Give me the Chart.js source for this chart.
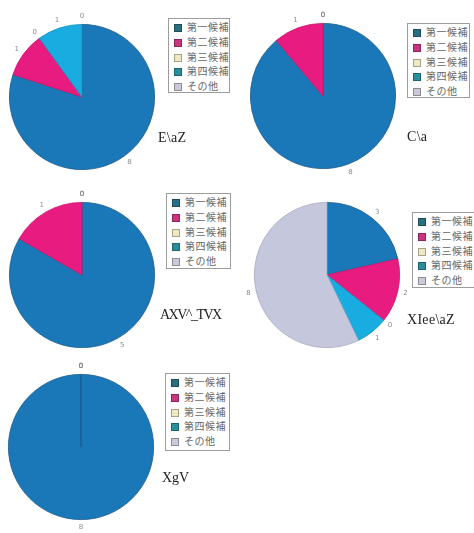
<!DOCTYPE html>
<html>
<head>
<meta charset="utf-8">
<script src="https://cdn.jsdelivr.net/npm/chart.js@4/dist/chart.umd.min.js"></script>
<style>
body{margin:0;background:#fff;width:474px;height:533px;overflow:hidden;position:relative}
canvas{position:absolute}
.legend{position:absolute;border:1px solid #9c9c9c;background:#fff;font:10px "Noto Sans CJK JP";color:#666;padding:1px 0 0 5px;box-sizing:border-box;overflow:hidden}
.legend div{height:14.8px;line-height:14.8px;white-space:nowrap;letter-spacing:0.5px}
.legend span{display:inline-block;width:6px;height:6px;margin-right:5px;vertical-align:-1px;border:1px solid rgba(0,0,0,.3)}
.title{position:absolute;font:14px "Liberation Serif";line-height:16px;color:#222;white-space:nowrap}
</style>
</head>
<body>
<script>
// 候補の区分
const categories = ['第一候補', '第二候補', '第三候補', '第四候補', 'その他'];
const chartNames = ['E\\aZ', 'C\\a', 'AXV^_TVX', 'XIee\\aZ', 'XgV'];

// 各円グラフの値
const values1 = [8, 1, 0, 1, 0];
const values2 = [8, 1, 0, 0, 0];
const values3 = [5, 1, 0, 0, 0];
const values4 = [3, 2, 0, 1, 8];
const values5 = [8, 0, 0, 0, 0];
const allValues = [values1, values2, values3, values4, values5];

const sliceColors = ['#1b78b8', '#e81c80', '#f3efc6', '#18ace0', '#c5c8dc'];
const edgeColors = ['#1a5a8c', '#c8176c', '#dcd6a8', '#1492c0', '#a9abc2'];
const legendColors = ['#2a6e82', '#c8367f', '#eee9c2', '#2a8d9c', '#c9c9d9'];

// 配置 (円の中心、凡例の枠、ラベル)
const panels = [
  {cx: 82, cy: 97, lg: [168, 18, 62, 75], tt: [158, 130], ls: 0.3},
  {cx: 323, cy: 96, lg: [407, 23, 63, 75], tt: [407, 129], ls: 0.3},
  {cx: 82, cy: 275, lg: [166, 193, 65, 76], tt: [160, 307], ls: -1.5},
  {cx: 327, cy: 275, lg: [412, 212, 66, 76], tt: [407, 312], ls: 0.3},
  {cx: 81, cy: 447, lg: [165, 373, 65, 78], tt: [162, 470], ls: 0}
];
const R = 73, PAD = 14;

const outsideLabels = {
  id: 'outsideLabels',
  afterDatasetsDraw(chart) {
    const ctx = chart.ctx;
    const meta = chart.getDatasetMeta(0);
    ctx.save();
    ctx.font = '7px "DejaVu Sans"';
    ctx.fillStyle = '#8c8c8c';
    ctx.textAlign = 'center';
    ctx.textBaseline = 'middle';
    meta.data.forEach((arc, i) => {
      const p = arc.getProps(['x', 'y', 'startAngle', 'endAngle', 'outerRadius'], true);
      const a = (p.startAngle + p.endAngle) / 2;
      const rr = p.outerRadius + 8;
      ctx.fillText(chart.data.datasets[0].data[i], p.x + Math.cos(a) * rr, p.y + Math.sin(a) * rr);
    });
    ctx.restore();
  }
};

panels.forEach((pn, k) => {
  const size = 2 * (R + PAD);
  const cv = document.createElement('canvas');
  cv.width = size; cv.height = size;
  cv.style.left = (pn.cx - size / 2) + 'px';
  cv.style.top = (pn.cy - size / 2) + 'px';
  document.body.appendChild(cv);

  new Chart(cv, {
    type: 'pie',
    data: {
      labels: categories,
      datasets: [{
        data: allValues[k],
        backgroundColor: sliceColors,
        borderColor: edgeColors,
        borderWidth: c => c.raw === 0 ? 0 : 0.8
      }]
    },
    options: {
      responsive: false,
      animation: false,
      layout: {padding: PAD},
      plugins: {legend: {display: false}, tooltip: {enabled: false}}
    },
    plugins: [outsideLabels]
  });

  const lg = document.createElement('div');
  lg.className = 'legend';
  lg.style.left = pn.lg[0] + 'px'; lg.style.top = pn.lg[1] + 'px';
  lg.style.width = pn.lg[2] + 'px'; lg.style.height = pn.lg[3] + 'px';
  categories.forEach((c, i) => {
    const row = document.createElement('div');
    const sw = document.createElement('span');
    sw.style.background = legendColors[i];
    row.appendChild(sw);
    row.appendChild(document.createTextNode(c));
    lg.appendChild(row);
  });
  document.body.appendChild(lg);

  const tt = document.createElement('div');
  tt.className = 'title';
  tt.style.left = pn.tt[0] + 'px'; tt.style.top = pn.tt[1] + 'px';
  tt.style.letterSpacing = pn.ls + 'px';
  tt.textContent = chartNames[k];
  document.body.appendChild(tt);
});
</script>
</body>
</html>
